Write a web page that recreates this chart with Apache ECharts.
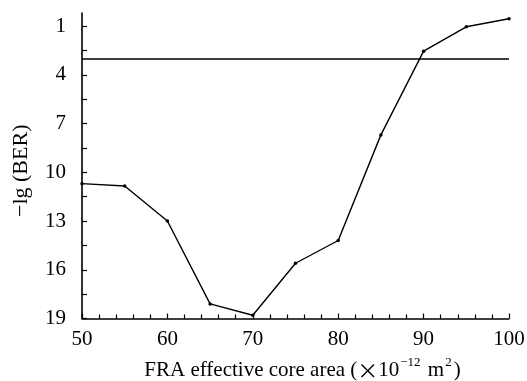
<!DOCTYPE html>
<html>
<head>
<meta charset="utf-8">
<script src="https://cdn.jsdelivr.net/npm/echarts@6/dist/echarts.min.js"></script>
<style>html,body{margin:0;padding:0;background:#fff}#c{width:527px;height:381px}</style>
</head>
<body>
<div id="c"></div>
<script>
var xValues = [50, 55, 60, 65, 70, 75, 80, 85, 90, 95, 100];
var berValues = [10.7, 10.85, 13.0, 18.1, 18.8, 15.6, 14.2, 7.7, 2.55, 1.05, 0.55];
var thresholdValue = 3;
var yTickLabels = [1, 4, 7, 10, 13, 16, 19];
var yTickMarks = [1, 2.5, 4, 5.5, 7, 8.5, 10, 11.5, 13, 14.5, 16, 17.5, 19];
var xTickLabels = [50, 60, 70, 80, 90, 100];

var chart = echarts.init(document.getElementById('c'), null, {renderer: 'canvas'});
var serif = '"Liberation Serif", "DejaVu Serif", serif';
chart.setOption({
  animation: false,
  backgroundColor: '#fff',
  grid: {left: 82, right: 18, top: 13, bottom: 62.5, containLabel: false, outerBoundsMode: 'none'},
  xAxis: {
    type: 'value', min: 50, max: 100, interval: 10,
    axisLine: {show: true, lineStyle: {color: '#000', width: 1.6}},
    axisTick: {show: true, inside: true, length: 5, lineStyle: {color: '#000', width: 1.2}},
    minorTick: {show: true, splitNumber: 5, length: 4, lineStyle: {color: '#000', width: 1.2}},
    splitLine: {show: false},
    axisLabel: {
      color: '#000', fontFamily: serif, fontSize: 21, margin: 10,
      customValues: xTickLabels
    },
    name: '{n|FRA effective core area (}{x|×}{n|10}{s|−12}{n| m}{s|2}{n|)}',
    nameLocation: 'middle', nameGap: 38,
    nameTextStyle: {
      color: '#000', fontFamily: serif, fontSize: 21, padding: [0, 0, 0, 14],
      rich: {
        n: {fontFamily: serif, fontSize: 21, color: '#000', lineHeight: 24, verticalAlign: 'bottom'},
        x: {fontFamily: '"Noto Sans CJK SC", "DejaVu Sans", sans-serif', fontSize: 21, color: '#000', lineHeight: 24, verticalAlign: 'bottom'},
        s: {fontFamily: serif, fontSize: 13, color: '#000', lineHeight: 13, verticalAlign: 'top', padding: [0, 2, 0, 1]}
      }
    }
  },
  yAxis: {
    type: 'value', min: 0.2, max: 19, inverse: true,
    axisLine: {show: true, lineStyle: {color: '#000', width: 1.6}},
    axisTick: {show: true, inside: true, length: 5, customValues: yTickMarks, lineStyle: {color: '#000', width: 1.2}},
    splitLine: {show: false},
    axisLabel: {
      color: '#000', fontFamily: serif, fontSize: 21, margin: 16,
      customValues: yTickLabels
    },
    name: '−lg (BER)',
    nameLocation: 'middle', nameGap: 50, nameRotate: 90,
    nameTextStyle: {color: '#000', fontFamily: serif, fontSize: 22, padding: [0, 10, 0, 0]}
  },
  series: [{
    type: 'line',
    data: xValues.map(function (x, i) { return [x, berValues[i]]; }),
    symbol: 'circle', symbolSize: 3.5,
    itemStyle: {color: '#000'},
    lineStyle: {color: '#000', width: 1.4},
    markLine: {
      silent: true, symbol: ['none', 'none'],
      label: {show: false},
      lineStyle: {color: '#000', width: 1.6, type: 'solid'},
      data: [{yAxis: thresholdValue}]
    }
  }]
});
</script>
</body>
</html>
